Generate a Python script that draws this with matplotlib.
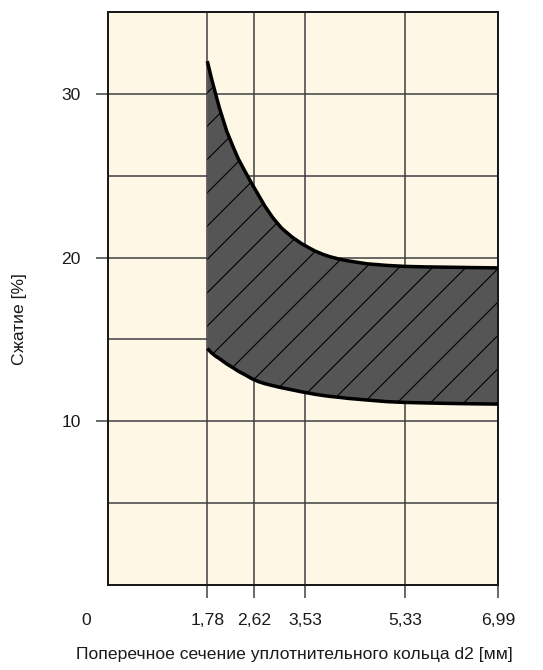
import matplotlib
matplotlib.use("Agg")
import matplotlib.pyplot as plt
import matplotlib.transforms as mtransforms
from matplotlib.ticker import FixedLocator

plt.rcParams['font.family'] = ['Liberation Sans', 'DejaVu Sans']
plt.rcParams['hatch.linewidth'] = 0.4

# ---- data ----
x_ticks = [1.78, 2.62, 3.53, 5.33, 6.99]
x_tick_labels = ["1,78", "2,62", "3,53", "5,33", "6,99"]
y_major = [10, 20, 30]
y_minor = [5, 15, 25]

x = [1.78, 1.85, 1.92, 2.0, 2.13, 2.25, 2.34, 2.45, 2.58, 2.7, 2.81, 2.95,
     3.11, 3.3, 3.47, 3.6, 3.71, 3.85, 3.98, 4.15, 4.3, 4.64, 5.0, 5.33, 5.7, 6.13, 6.5, 6.99]
upper = [32.0, 31.0, 30.1, 29.1, 27.7, 26.7, 26.0, 25.3, 24.5, 23.8, 23.15, 22.45,
         21.8, 21.25, 20.85, 20.6, 20.4, 20.2, 20.05, 19.9, 19.8, 19.62, 19.52, 19.46,
         19.43, 19.41, 19.39, 19.37]
lower = [14.45, 14.2, 14.0, 13.82, 13.5, 13.25, 13.05, 12.85, 12.6, 12.42, 12.3, 12.18,
         12.05, 11.92, 11.8, 11.72, 11.65, 11.58, 11.52, 11.46, 11.4, 11.3, 11.2, 11.15,
         11.12, 11.09, 11.07, 11.05]

xlabel = "Поперечное сечение уплотнительного кольца d2 [мм]"
ylabel = "Сжатие [%]"

# ---- figure ----
DPI = 200
fig = plt.figure(figsize=(543 / DPI, 670 / DPI), dpi=DPI)
ax = fig.add_axes([108 / 543, 1 - 585 / 670, 390 / 543, 573 / 670])
ax.set_facecolor('#fef7e6')
ax.set_xlim(0, 6.99)
ax.set_ylim(0, 35)

px = 72 / DPI  # one pixel in points
FS = 6.3

# grid
ax.set_axisbelow(True)
ax.xaxis.set_major_locator(FixedLocator(x_ticks))
ax.set_xticklabels(x_tick_labels)
ax.yaxis.set_major_locator(FixedLocator(y_major))
ax.yaxis.set_minor_locator(FixedLocator(y_minor))
ax.grid(True, which='both', color='#3c3c3c', linewidth=1.5 * px)

ax.tick_params(axis='x', which='major', length=13 * px, width=1.5 * px, color='#3c3c3c',
               pad=15 * px, labelsize=FS, labelcolor='#1a1a1a')
ax.tick_params(axis='y', which='major', length=12 * px, width=1.5 * px, color='#3c3c3c',
               pad=15 * px, labelsize=FS, labelcolor='#1a1a1a')
ax.tick_params(axis='y', which='minor', length=0)

for s in ax.spines.values():
    s.set_linewidth(2 * px)
    s.set_color('#1a1a1a')

# band
poly_x = x + x[::-1]
poly_y = upper + lower[::-1]
ax.fill(poly_x, poly_y, facecolor='#555555', edgecolor='black', linewidth=0,
        hatch='//', zorder=2)
ax.plot(x, upper, color='black', linewidth=3.5 * px, solid_capstyle='butt', zorder=3)
ax.plot(x, lower, color='black', linewidth=3.5 * px, solid_capstyle='butt', zorder=3)

# "0" label at origin, shifted left as in reference
fig.canvas.draw()
bb = ax.get_xticklabels()[0].get_window_extent()
x0_disp = ax.transData.transform((0, 0))[0] - 22
ax.text(x0_disp, bb.y1, "0", transform=mtransforms.IdentityTransform(),
        ha='center', va='top', fontsize=FS, color='#1a1a1a')

fig.text(20 / 543, 1 - 319 / 670, ylabel, rotation=90, ha='center', va='center',
         fontsize=FS, color='#1a1a1a')
fig.text(294 / 543, 1 - 655 / 670, xlabel, ha='center', va='center',
         fontsize=FS, color='#1a1a1a')

fig.savefig('out.png', dpi=DPI, facecolor='white')
